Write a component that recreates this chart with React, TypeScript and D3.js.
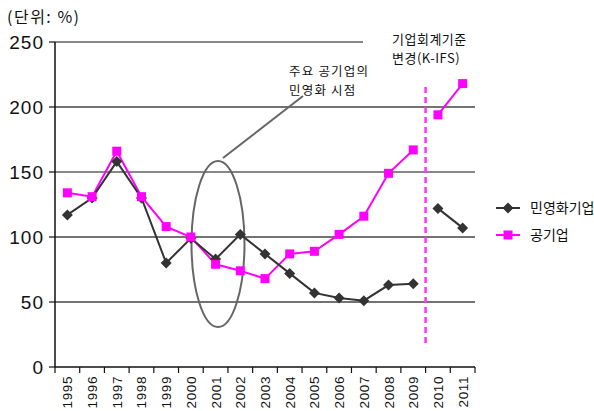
import React from 'react';
import * as d3 from 'd3';

// data
const years = ['1995', '1996', '1997', '1998', '1999', '2000', '2001', '2002', '2003',
    '2004', '2005', '2006', '2007', '2008', '2009', '2010', '2011'];
const privatized = [117, 130, 158, 130, 80, 99, 83, 102, 87, 72, 57, 53, 51, 63, 64, 122, 107];
const publicCorp = [134, 131, 166, 131, 108, 100, 79, 74, 68, 87, 89, 102, 116, 149, 167, 194, 218];
const yTicks = [0, 50, 100, 150, 200, 250];
const breakYear = '2010';

const NUM_FONT = 'Liberation Sans, Arial, sans-serif';
const KO_FONT = 'Noto Sans CJK KR, sans-serif';

const App = () => {
    const width = 594;
    const height = 411;
    const margin = {t: 42, b: 44, l: 55, r: 119};

    const x = d3.scaleBand<string>()
        .domain(years)
        .range([margin.l, width - margin.r]);

    const y = d3.scaleLinear()
        .domain([0, 250])
        .range([height - margin.b, margin.t]);

    const cx = (yr: string) => (x(yr) as number) + x.bandwidth() / 2;

    const line = d3.line<[string, number]>()
        .x(d => cx(d[0]))
        .y(d => y(d[1]));

    // the series break where the accounting standard changes
    const splitAt = years.indexOf(breakYear);
    const segs = (vals: number[]) => {
        const pts = years.map((yr, i) => [yr, vals[i]] as [string, number]);
        return [pts.slice(0, splitAt), pts.slice(splitAt)];
    };

    const diamond = (px: number, py: number, r: number) =>
        `M${px},${py - r}L${px + r},${py}L${px},${py + r}L${px - r},${py}Z`;

    const gridStyle = (t: number) => (t === 250 || t === 150 ? {stroke: '#111', w: 1.2} : {stroke: '#444', w: 1.6});

    const breakX = x(breakYear) as number;
    const y0 = y(0);

    return (
        <svg width={width} height={height} style={{position: 'absolute', left: 0, top: 0}}>
            <rect width={width} height={height} fill="#fff"/>
            <text x={7} y={23} fontFamily={KO_FONT} fontSize={16} letterSpacing={1.5} fill="#111">(단위: %)</text>

            {/* grid */}
            {yTicks.filter(t => t > 0).map(t => {
                const s = gridStyle(t);
                return <line key={t} x1={margin.l} x2={t === 250 ? 363 : width - margin.r}
                             y1={y(t)} y2={y(t)} stroke={s.stroke} strokeWidth={s.w}/>;
            })}

            {/* axes */}
            <line x1={margin.l} x2={margin.l} y1={y(250)} y2={y0} stroke="#111" strokeWidth={1.5}/>
            <line x1={margin.l} x2={width - margin.r} y1={y0} y2={y0} stroke="#111" strokeWidth={1.5}/>
            {yTicks.map(t => (
                <g key={t} transform={`translate(${margin.l},${y(t)})`}>
                    <line x1={-6} x2={0} y1={0} y2={0} stroke="#111" strokeWidth={1.2}/>
                    <text x={-11} y={7} textAnchor="end" fontFamily={NUM_FONT} fontSize={19}
                          letterSpacing={1} fill="#111">{t}</text>
                </g>
            ))}
            {years.concat(['end']).map((yr, i) => {
                const px = margin.l + i * x.bandwidth();
                return <line key={yr} x1={px} x2={px} y1={y0} y2={y0 + 6} stroke="#111" strokeWidth={1.2}/>;
            })}
            {years.map(yr => (
                <text key={yr} transform={`translate(${cx(yr) + 5},${y0 + 9}) rotate(-90)`}
                      textAnchor="end" fontFamily={NUM_FONT} fontSize={13.5} letterSpacing={0.6}
                      fill="#111">{yr}</text>
            ))}

            {/* break marker */}
            <line x1={breakX} x2={breakX} y1={87} y2={347} stroke="#ff33ff" strokeWidth={2.5}
                  strokeDasharray="6,4"/>
            <text x={392} y={44} fontFamily={KO_FONT} fontSize={13} letterSpacing={0.5} fill="#111">기업회계기준</text>
            <text x={392} y={63} fontFamily={KO_FONT} fontSize={13} letterSpacing={0.5} fill="#111">변경(K-IFS)</text>

            {/* privatization annotation */}
            <ellipse cx={218} cy={244} rx={26.5} ry={83} fill="none" stroke="#666" strokeWidth={2}/>
            <line x1={223} y1={158} x2={303} y2={96} stroke="#666" strokeWidth={2}/>
            <text x={289} y={76} fontFamily={KO_FONT} fontSize={12.5} letterSpacing={1.2} fill="#111">주요 공기업의</text>
            <text x={289} y={94.5} fontFamily={KO_FONT} fontSize={12.5} letterSpacing={1.2} fill="#111">민영화 시점</text>

            {/* series */}
            {segs(publicCorp).map((s, i) => <path key={'p' + i} d={line(s) as string} fill="none"
                                                  stroke="#ff00ff" strokeWidth={2}/>)}
            {segs(privatized).map((s, i) => <path key={'b' + i} d={line(s) as string} fill="none"
                                                  stroke="#333" strokeWidth={2}/>)}
            {years.map((yr, i) => <path key={'d' + yr} d={diamond(cx(yr), y(privatized[i]), 5.5)} fill="#333"/>)}
            {years.map((yr, i) => <rect key={'s' + yr} x={cx(yr) - 4.5} y={y(publicCorp[i]) - 4.5}
                                        width={9} height={9} fill="#ff00ff"/>)}

            {/* legend */}
            <g transform="translate(496,208)">
                <line x1={0} x2={24} y1={0} y2={0} stroke="#333" strokeWidth={2}/>
                <path d={diamond(12, 0, 5.5)} fill="#333"/>
                <text x={34} y={5} fontFamily={KO_FONT} fontSize={14} fill="#111">민영화기업</text>
            </g>
            <g transform="translate(496,235)">
                <line x1={0} x2={24} y1={0} y2={0} stroke="#ff00ff" strokeWidth={2}/>
                <rect x={7.5} y={-4.5} width={9} height={9} fill="#ff00ff"/>
                <text x={34} y={5} fontFamily={KO_FONT} fontSize={14} fill="#111">공기업</text>
            </g>
        </svg>
    );
};

export default App;
